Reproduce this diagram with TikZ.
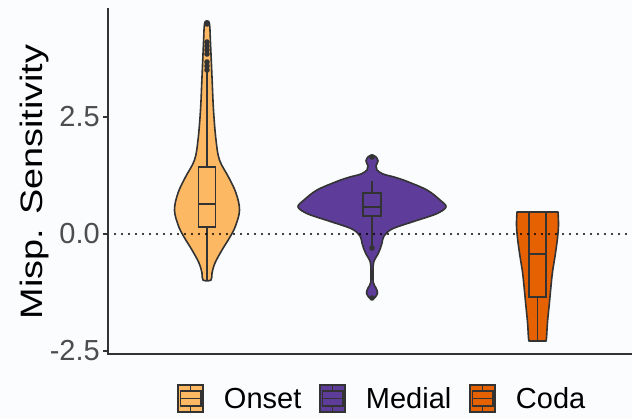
\documentclass[tikz,border=0pt]{standalone}
\usepackage{fontspec}
\setmainfont{Liberation Sans}
\usetikzlibrary{%
        positioning,
    }
\definecolor{onset}{HTML}{FDB863}
\definecolor{medial}{HTML}{5E3C99}
\definecolor{coda}{HTML}{E66101}
\definecolor{outline}{HTML}{333333}
\definecolor{ticktext}{HTML}{4D4D4D}
\definecolor{bg}{HTML}{FBFCFE}
\tikzset{%
    violin/.style={%
        draw=outline,
        line width=1.6pt,
        line join=round,
    },
    boxline/.style={draw=outline, line width=1.5pt},
    medianline/.style={draw=outline, line width=2.8pt},
    outlier/.style={fill=outline},
    axisline/.style={draw=outline, line width=1.6pt},
    zeroline/.style={%
        draw=black,
        line width=2.1pt,
        line cap=round,
        dash pattern=on 0pt off 7pt,
    },
    ticklabel/.style={%
        text=ticktext,
        anchor=east,
        inner sep=0pt,
        font=\fontsize{29}{29}\selectfont,
    },
    legendkey/.style={%
        draw=outline,
        line width=1.5pt,
        minimum width=25pt,
        minimum height=27pt,
        inner sep=0pt,
    },
    legendtext/.style={%
        inner sep=0pt,
        font=\fontsize{29}{29}\selectfont,
    },
}

\begin{document}
\begin{tikzpicture}[x=1pt, y=-1pt]

    \fill[bg] (0,0) rectangle (632,418);
    \useasboundingbox (0,0) rectangle (632,418);

    %%%%%%%%%%%
    % Violins %
    %%%%%%%%%%%
    % Onset
    \begin{scope}[xshift=207pt]
        \draw[violin, fill=onset] plot[smooth cycle, tension=0.6] coordinates {%
            (0,21) (2.5,24) (3.5,43) (5,77) (6.5,110) (9,140) (12.5,160)
            (21.5,177) (29,193) (32.5,210) (28.5,226) (23,237) (15,250)
            (8,263) (5,273) (4,280)
            (-4,280) (-5,273) (-8,263) (-15,250) (-23,237) (-28.5,226)
            (-32.5,210) (-29,193) (-21.5,177) (-12.5,160) (-9,140)
            (-6.5,110) (-5,77) (-3.5,43) (-2.5,24)
        };
        \draw[boxline] (-8.5,167) rectangle (8.5,227);
        \draw[medianline] (-8.5,204) -- (8.5,204);
        \draw[boxline] (0,167) -- (0,70);
        \draw[boxline] (0,227) -- (0,280);
        \foreach \ypos in {24, 42, 46, 50, 54, 62, 66, 70}{%
            \fill[outlier] (0,\ypos) circle (2.8pt);
        };
    \end{scope}

    % Medial
    \begin{scope}[xshift=372pt]
        \draw[violin, fill=medial] plot[smooth cycle, tension=0.55] coordinates {%
            (0,155) (4,157) (6,161) (4,166) (5,170) (11,174) (22,177)
            (34,181) (55,190) (68,200) (74,207) (64,214) (40,222)
            (20,229) (12,236) (10,243) (8.5,248) (6,254) (2.5,260)
            (1.2,266) (1.2,282) (4,288) (5.5,293) (3,297.5)
            (0,299)
            (-3,297.5) (-5.5,293) (-4,288) (-1.2,282) (-1.2,266)
            (-2.5,260) (-6,254) (-8.5,248) (-10,243) (-12,236) (-20,229)
            (-40,222) (-64,214) (-74,207) (-68,200) (-55,190) (-34,181)
            (-22,177) (-11,174) (-5,170) (-4,166) (-6,161) (-4,157)
        };
        \draw[boxline] (-9,193) rectangle (9,216);
        \draw[medianline] (-9,207) -- (9,207);
        \draw[boxline] (0,193) -- (0,181);
        \draw[boxline] (0,216) -- (0,248);
        \foreach \ypos in {157, 248, 298}{%
            \fill[outlier] (0,\ypos) circle (2.8pt);
        };
    \end{scope}

    % Coda
    \begin{scope}[xshift=537.5pt]
        \draw[violin, fill=coda] (-20.5,212) -- (20.5,212)
            -- plot[smooth, tension=0.6] coordinates {%
                (20.5,212) (21,225) (20,238) (17.7,255) (15,272)
                (13.3,288) (11.7,305) (10,322) (9,338) (8.5,341)
            }
            -- (-8.5,341)
            -- plot[smooth, tension=0.6] coordinates {%
                (-8.5,341) (-9,338) (-10,322) (-11.7,305) (-13.3,288)
                (-15,272) (-17.7,255) (-20,238) (-21,225) (-20.5,212)
            } -- cycle;
        \draw[boxline] (-8.5,212) rectangle (8.5,297);
        \draw[medianline] (-8.5,254) -- (8.5,254);
        \draw[boxline] (0,297) -- (0,341);
    \end{scope}

    % Zero line
    \coordinate (zero-left) at (108,234);
    \coordinate (zero-right) at (632,234);
    \draw[zeroline] (zero-left) -- (zero-right);

    %%%%%%%%
    % Axes %
    %%%%%%%%
    \coordinate (y-top) at (108,8);
    \coordinate (origin) at (108,354);
    \coordinate (x-end) at (632,354);
    \draw[axisline] (y-top) -- (origin) -- (x-end);

    \foreach \val/\ypos/\name in {2.5/117/high, 0.0/234/zero, -2.5/351/low}{%
        \node[ticklabel] (tick-\name) at (100,\ypos) {\val};
        \draw[axisline] ([xshift=3pt] tick-\name.east) -- ++(5,0);
    };

    \node[rotate=90, inner sep=0pt, font=\fontsize{31}{31}\selectfont]
        (y-title) at (34,182) {\scalebox{1.22}[1]{Misp. Sensitivity}};

    %%%%%%%%%%
    % Legend %
    %%%%%%%%%%
    \foreach \name/\lab/\xpos in {%
        onset/Onset/190.5, medial/Medial/332.5, coda/Coda/482.5%
    }{%
        \node[legendkey, fill=\name] (key-\name) at (\xpos,398.5) {};
        \draw[boxline]
            ([shift={(3pt,6.75pt)}] key-\name.south west) rectangle
            ([shift={(-3pt,-6.75pt)}] key-\name.north east);
        \draw[boxline] ([xshift=3pt] key-\name.west) -- ([xshift=-3pt] key-\name.east);
        \draw[boxline] (key-\name.north) -- ++(0,6.75);
        \draw[boxline] (key-\name.south) -- ++(0,-6.75);
        \node[legendtext, anchor=west, right=20pt of key-\name]
            (label-\name) {\lab};
    };

\end{tikzpicture}
\end{document}
